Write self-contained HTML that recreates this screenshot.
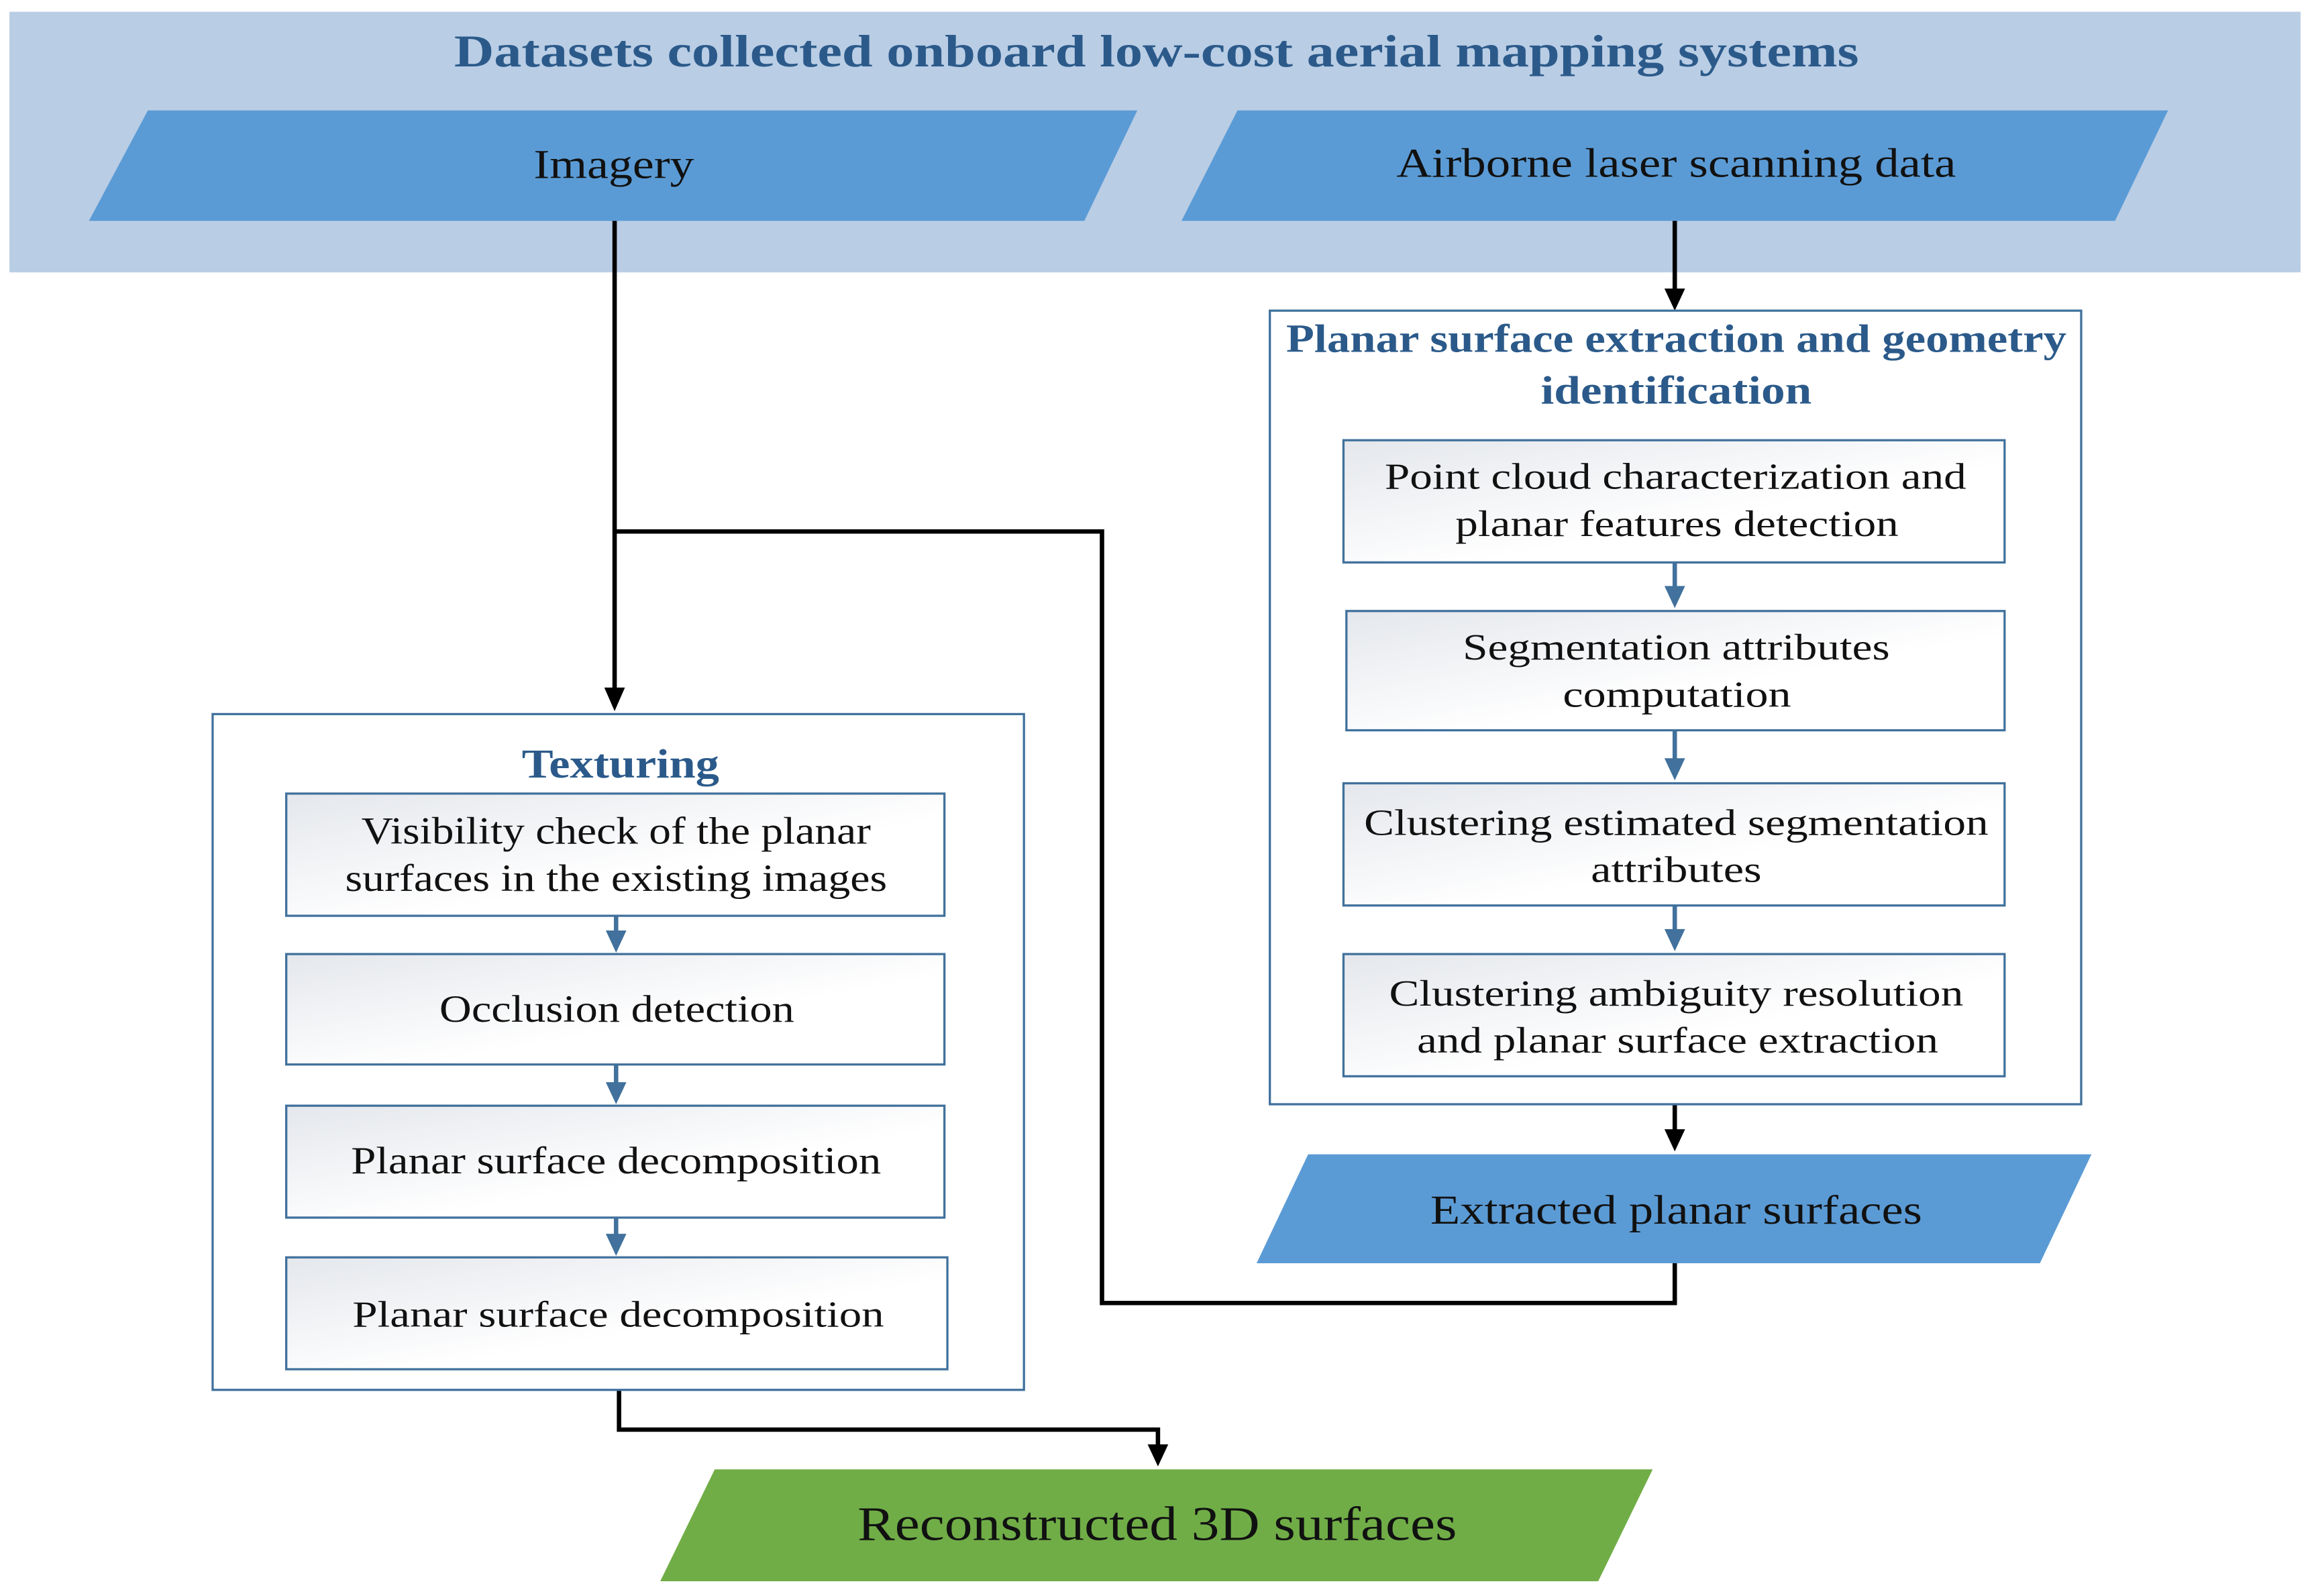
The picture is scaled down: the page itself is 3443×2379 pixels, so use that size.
<!DOCTYPE html>
<html><head><meta charset="utf-8"><style>
html,body{margin:0;padding:0;background:#fff;}
svg{display:block;}
text{font-family:"Liberation Serif",serif;}
</style></head><body>
<svg width="3443" height="2379" viewBox="0 0 1568 1084" xmlns="http://www.w3.org/2000/svg">
<defs>
<linearGradient id="g" x1="0" y1="0" x2="1" y2="1">
<stop offset="0" stop-color="#e4e7ec"/><stop offset="0.6" stop-color="#ffffff"/>
</linearGradient>
</defs>
<rect width="1568" height="1084" fill="#fff"/>
<rect x="6" y="8" width="1556" height="177" fill="#b9cde5"/>
<text x="308" y="45" font-size="31" font-weight="bold" fill="#2b5a8a" textLength="954" lengthAdjust="spacingAndGlyphs">Datasets collected onboard low-cost aerial mapping systems</text>
<polygon points="100,75 772,75 736,150 60,150" fill="#5b9bd5"/>
<text x="362" y="121" font-size="28" fill="#111" textLength="109" lengthAdjust="spacingAndGlyphs">Imagery</text>
<polygon points="840,75 1472,75 1436,150 802,150" fill="#5b9bd5"/>
<text x="948" y="120" font-size="28" fill="#111" textLength="380" lengthAdjust="spacingAndGlyphs">Airborne laser scanning data</text>

<g stroke="#000" stroke-width="3" fill="none">
<line x1="1137" y1="150" x2="1137" y2="198"/>
<line x1="417" y1="150" x2="417" y2="470"/>
<line x1="1137" y1="750" x2="1137" y2="770"/>
<polyline points="1137,858 1137,885 748,885 748,361 417,361"/>
<polyline points="420,944 420,971 786,971 786,984"/>
</g>
<g fill="#000">
<polygon points="1130,196 1144,196 1137,211"/>
<polygon points="410,467 424,467 417,483"/>
<polygon points="1130,767 1144,767 1137,782"/>
<polygon points="779,981 793,981 786,996"/>
</g>

<rect x="862" y="211" width="551" height="539" fill="#fff" stroke="#41719c" stroke-width="1.5"/>
<text x="873" y="239" font-size="27" font-weight="bold" fill="#2b5a8a" textLength="530" lengthAdjust="spacingAndGlyphs">Planar surface extraction and geometry</text>
<text x="1046" y="274" font-size="27" font-weight="bold" fill="#2b5a8a" textLength="184" lengthAdjust="spacingAndGlyphs">identification</text>
<g stroke="#41719c" stroke-width="1.5" fill="url(#g)">
<rect x="912" y="299" width="449" height="83"/>
<rect x="914" y="415" width="447" height="81"/>
<rect x="912" y="532" width="449" height="83"/>
<rect x="912" y="648" width="449" height="83"/>
</g>
<g font-size="25" fill="#111" lengthAdjust="spacingAndGlyphs">
<text x="940" y="332" textLength="395" lengthAdjust="spacingAndGlyphs">Point cloud characterization and</text>
<text x="988" y="364" textLength="301" lengthAdjust="spacingAndGlyphs">planar features detection</text>
<text x="993" y="448" textLength="290" lengthAdjust="spacingAndGlyphs">Segmentation attributes</text>
<text x="1061" y="480" textLength="155" lengthAdjust="spacingAndGlyphs">computation</text>
<text x="926" y="567" textLength="424" lengthAdjust="spacingAndGlyphs">Clustering estimated segmentation</text>
<text x="1080" y="599" textLength="116" lengthAdjust="spacingAndGlyphs">attributes</text>
<text x="943" y="683" textLength="390" lengthAdjust="spacingAndGlyphs">Clustering ambiguity resolution</text>
<text x="962" y="715" textLength="354" lengthAdjust="spacingAndGlyphs">and planar surface extraction</text>
</g>
<g stroke="#41719c" stroke-width="3">
<line x1="1137" y1="382" x2="1137" y2="402"/>
<line x1="1137" y1="496" x2="1137" y2="519"/>
<line x1="1137" y1="615" x2="1137" y2="635"/>
</g>
<g fill="#41719c">
<polygon points="1130,398 1144,398 1137,413"/>
<polygon points="1130,515 1144,515 1137,530"/>
<polygon points="1130,631 1144,631 1137,646"/>
</g>

<polygon points="888,784 1420,784 1385,858 853,858" fill="#5b9bd5"/>
<text x="971" y="831" font-size="28" fill="#111" textLength="334" lengthAdjust="spacingAndGlyphs">Extracted planar surfaces</text>

<rect x="144" y="485" width="551" height="459" fill="#fff" stroke="#41719c" stroke-width="1.5"/>
<text x="354" y="528" font-size="28" font-weight="bold" fill="#2b5a8a" textLength="134" lengthAdjust="spacingAndGlyphs">Texturing</text>
<g stroke="#41719c" stroke-width="1.5" fill="url(#g)">
<rect x="194" y="539" width="447" height="83"/>
<rect x="194" y="648" width="447" height="75"/>
<rect x="194" y="751" width="447" height="76"/>
<rect x="194" y="854" width="449" height="76"/>
</g>
<g font-size="26" fill="#111">
<text x="245" y="573" textLength="346" lengthAdjust="spacingAndGlyphs">Visibility check of the planar</text>
<text x="234" y="605" textLength="368" lengthAdjust="spacingAndGlyphs">surfaces in the existing images</text>
<text x="298" y="694" textLength="241" lengthAdjust="spacingAndGlyphs">Occlusion detection</text>
<text x="238" y="797" textLength="360" lengthAdjust="spacingAndGlyphs">Planar surface decomposition</text>
<text x="239" y="901" font-size="25" textLength="361" lengthAdjust="spacingAndGlyphs">Planar surface decomposition</text>
</g>
<g stroke="#41719c" stroke-width="3">
<line x1="418" y1="622" x2="418" y2="636"/>
<line x1="418" y1="723" x2="418" y2="739"/>
<line x1="418" y1="827" x2="418" y2="842"/>
</g>
<g fill="#41719c">
<polygon points="411,632 425,632 418,647"/>
<polygon points="411,735 425,735 418,750"/>
<polygon points="411,838 425,838 418,853"/>
</g>

<polygon points="485,998 1122,998 1085,1074 448,1074" fill="#70ad47"/>
<text x="582" y="1046" font-size="33" fill="#111" textLength="407" lengthAdjust="spacingAndGlyphs">Reconstructed 3D surfaces</text>
</svg>
</body></html>
